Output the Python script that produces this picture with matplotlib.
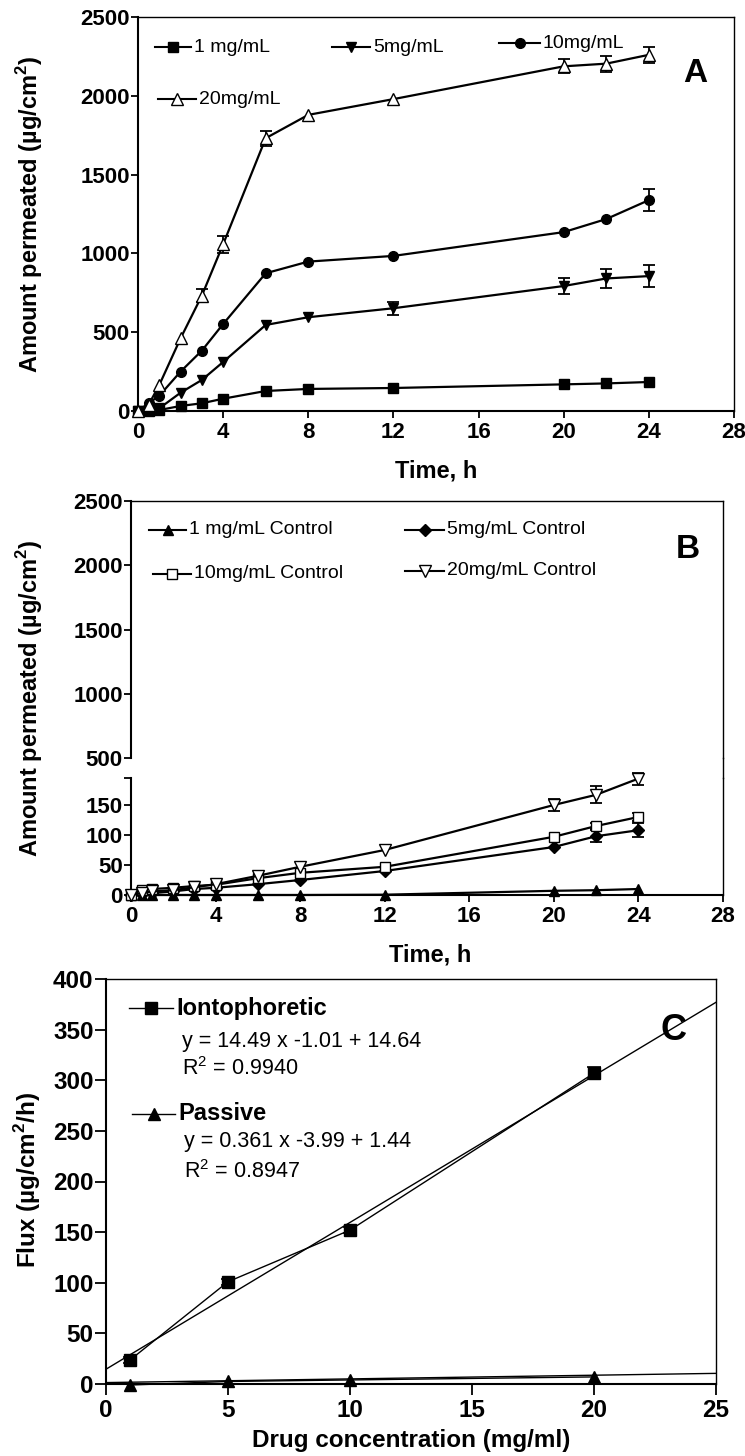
import matplotlib
matplotlib.use("Agg")
import matplotlib.pyplot as plt
from matplotlib.lines import Line2D

W, H = 745, 1456
plt.rcParams['font.family'] = ['Liberation Sans', 'DejaVu Sans']
plt.rcParams['mathtext.fontset'] = 'custom'
plt.rcParams['mathtext.rm'] = 'Liberation Sans'
plt.rcParams['mathtext.bf'] = 'Liberation Sans:bold'

# ---- panel A: iontophoretic permeation ----
time_h = [0, 0.5, 1, 2, 3, 4, 6, 8, 12, 20, 22, 24]
a_1mg = [0, 3, 6, 32, 49, 78, 127, 140, 146, 169, 175, 184]
a_5mg = [0, 5, 17, 116, 197, 311, 546, 595, 652, 793, 841, 856]
a_10mg = [0, 50, 97, 250, 383, 552, 874, 948, 984, 1135, 1218, 1338]
a_20mg = [0, 40, 165, 461, 732, 1058, 1731, 1879, 1979, 2187, 2204, 2260]
a_5mg_err = [0, 0, 0, 0, 0, 0, 0, 0, 40, 53, 60, 69]
a_10mg_err = [0, 0, 0, 0, 0, 0, 0, 0, 0, 0, 0, 70]
a_20mg_err = [0, 0, 0, 0, 42, 55, 48, 0, 0, 44, 50, 51]

# ---- panel B: passive controls ----
b_1mg = [0, 0, 0, 0, 0, 0, 0, 0, 0.5, 7, 8, 10]
b_5mg = [0, 2, 3, 6, 10, 12, 18, 25, 40, 80, 98, 108]
b_10mg = [0, 8, 10, 12, 15, 17, 28, 37, 47, 97, 115, 130]
b_20mg = [0, 3, 6, 8, 13, 18, 32, 47, 75, 150, 167, 194]
b_5mg_err = [0, 0, 0, 0, 0, 0, 0, 0, 0, 0, 10, 12]
b_10mg_err = [0, 0, 0, 0, 0, 0, 0, 0, 0, 0, 5, 6]
b_20mg_err = [0, 0, 0, 0, 0, 0, 0, 0, 0, 10, 14, 10]

# ---- panel C: flux vs concentration ----
conc = [1, 5, 10, 20]
flux_ionto = [24, 101, 152, 307]
flux_ionto_err = [3, 3, 3, 6]
flux_passive = [-1, 2.5, 4, 7]
fit_x = [0, 25]
fit_ionto = [14.6, 377]
fit_passive = [1.4, 10.5]


def fx(x):
    return x / W


def fy(y):
    return 1 - y / H


def axes_px(fig, l, t, r, b):
    return fig.add_axes([fx(l), fy(b), (r - l) / W, (b - t) / H])


def style(ax, tick_len=5, fs=16):
    for s in ax.spines.values():
        s.set_linewidth(1.0)
    ax.spines['left'].set_linewidth(1.5)
    ax.spines['bottom'].set_linewidth(1.5)
    ax.tick_params(direction='out', length=tick_len, width=1.3, labelsize=fs,
                   pad=1, top=False, right=False)
    ax.tick_params(axis='x', pad=3)
    for lab in ax.get_xticklabels() + ax.get_yticklabels():
        lab.set_fontweight('bold')


def errbars(ax, x, y, err, lw=1.3):
    sel = [i for i, e in enumerate(err) if e > 0]
    ax.errorbar([x[i] for i in sel], [y[i] for i in sel], yerr=[err[i] for i in sel],
                fmt='none', ecolor='k', elinewidth=lw, capsize=4, capthick=lw,
                clip_on=False, zorder=2)


def legend_item(fig, x0, x1, y, marker, mfc, ms, label, fs=14, weight='normal', lw=1.5):
    fig.add_artist(Line2D([fx(x0), fx(x1)], [fy(y), fy(y)], color='k', lw=lw,
                          transform=fig.transFigure))
    fig.add_artist(Line2D([fx((x0 + x1) / 2)], [fy(y)], marker=marker, ms=ms,
                          mfc=mfc, mec='k', mew=1, color='k',
                          transform=fig.transFigure))
    fig.text(fx(x1 + 3), fy(y), label, fontsize=fs, fontweight=weight,
             va='center', ha='left')


fig = plt.figure(figsize=(W / 100, H / 100), dpi=100)
ylab = r'Amount permeated (µg/cm$^{\mathbf{2}}$)'

# ================= Panel A =================
axA = axes_px(fig, 138, 17, 734, 411)
series_a = [(a_1mg, None, 's', 'k', 6.5), (a_5mg, a_5mg_err, 'v', 'k', 7.5),
            (a_10mg, a_10mg_err, 'o', 'k', 7), (a_20mg, a_20mg_err, '^', 'w', 8)]
for vals, err, mk, fc, ms in series_a:
    if err is not None:
        errbars(axA, time_h, vals, err)
    axA.plot(time_h, vals, color='k', lw=1.6, marker=mk, ms=ms, mfc=fc, mec='k',
             mew=1, clip_on=False, zorder=3)
axA.set_xlim(0, 28)
axA.set_ylim(0, 2500)
axA.set_xticks(range(0, 29, 4))
axA.set_yticks(range(0, 2501, 500))
style(axA)
fig.text(fx(436), fy(471), 'Time, h', fontsize=17, fontweight='bold', ha='center', va='center')
fig.text(fx(30), fy(214), ylab, fontsize=17, fontweight='bold', rotation=90,
         ha='center', va='center')
fig.text(fx(695), fy(73), 'A', fontsize=24, fontweight='bold', ha='center', va='center')
legend_item(fig, 155, 191, 47, 's', 'k', 6.5, '1 mg/mL')
legend_item(fig, 332, 370, 47, 'v', 'k', 7.5, '5mg/mL')
legend_item(fig, 499, 540, 43, 'o', 'k', 7, '10mg/mL')
legend_item(fig, 158, 196, 99, '^', 'w', 8, '20mg/mL')

# ================= Panel B (broken axis) =================
axBu = axes_px(fig, 131, 501, 723, 758)
axBl = axes_px(fig, 131, 778, 723, 895)
axBu.set_xlim(0, 28)
axBu.set_ylim(500, 2500)
axBu.set_yticks(range(500, 2501, 500))
axBu.set_xticks([])
axBu.spines['bottom'].set_visible(False)
style(axBu)
axBl.spines['top'].set_visible(False)
series_b = [(b_1mg, None, '^', 'k', 7.5), (b_5mg, b_5mg_err, 'D', 'k', 6),
            (b_10mg, b_10mg_err, 's', 'w', 7), (b_20mg, b_20mg_err, 'v', 'w', 8)]
for vals, err, mk, fc, ms in series_b:
    if err is not None:
        errbars(axBl, time_h, vals, err)
    axBl.plot(time_h, vals, color='k', lw=1.6, marker=mk, ms=ms, mfc=fc, mec='k',
              mew=1, clip_on=False, zorder=3)
axBl.set_xlim(0, 28)
axBl.set_ylim(0, 195)
axBl.set_xticks(range(0, 29, 4))
axBl.set_yticks([0, 50, 100, 150, 195])
axBl.set_yticklabels(['0', '50', '100', '150', ''])
style(axBl)
# right spine continues through the break
fig.add_artist(Line2D([fx(723), fx(723)], [fy(758), fy(778)], color='k', lw=1.0,
                      transform=fig.transFigure))
fig.text(fx(430), fy(955), 'Time, h', fontsize=17, fontweight='bold', ha='center', va='center')
fig.text(fx(30), fy(698), ylab, fontsize=17, fontweight='bold', rotation=90,
         ha='center', va='center')
fig.text(fx(688), fy(550), 'B', fontsize=24, fontweight='bold', ha='center', va='center')
legend_item(fig, 149, 186, 530, '^', 'k', 7.5, '1 mg/mL Control')
legend_item(fig, 405, 444, 530, 'D', 'k', 6, '5mg/mL Control')
legend_item(fig, 153, 191, 574, 's', 'w', 7, '10mg/mL Control')
legend_item(fig, 405, 444, 571, 'v', 'w', 8, '20mg/mL Control')

# ================= Panel C =================
axC = axes_px(fig, 106, 979, 716, 1384)
axC.plot(fit_x, fit_ionto, color='k', lw=1.0, zorder=2)
axC.plot(fit_x, fit_passive, color='k', lw=1.0, zorder=2)
axC.errorbar(conc, flux_ionto, yerr=flux_ionto_err, fmt='none', ecolor='k',
             elinewidth=1.2, capsize=5, capthick=1.2, zorder=2)
axC.plot(conc, flux_ionto, color='k', lw=1.0, marker='s', ms=8, mfc='k', mec='k',
         clip_on=False, zorder=3)
axC.plot(conc, flux_passive, color='k', lw=1.0, marker='^', ms=8.5, mfc='k', mec='k',
         clip_on=False, zorder=3)
axC.set_xlim(0, 25)
axC.set_ylim(0, 400)
axC.set_xticks(range(0, 26, 5))
axC.set_yticks(range(0, 401, 50))
style(axC, tick_len=8, fs=17.5)
fig.text(fx(411), fy(1440), 'Drug concentration (mg/ml)', fontsize=17.5, fontweight='bold',
         ha='center', va='center')
fig.text(fx(28), fy(1180), r'Flux (µg/cm$^{\mathbf{2}}$/h)', fontsize=17.5, fontweight='bold',
         rotation=90, ha='center', va='center')
fig.text(fx(673), fy(1030), 'C', fontsize=26, fontweight='bold', ha='center', va='center')
legend_item(fig, 129, 173, 1008, 's', 'k', 8, 'Iontophoretic', fs=17, weight='bold', lw=1.0)
fig.text(fx(182), fy(1042), 'y = 14.49 x -1.01 + 14.64', fontsize=15.5, va='center')
fig.text(fx(182), fy(1069), r'R$^{\mathrm{2}}$ = 0.9940', fontsize=15.5, va='center')
legend_item(fig, 132, 175, 1114, '^', 'k', 8.5, 'Passive', fs=17, weight='bold', lw=1.0)
fig.text(fx(184), fy(1142), 'y = 0.361 x -3.99 + 1.44', fontsize=15.5, va='center')
fig.text(fx(184), fy(1172), r'R$^{\mathrm{2}}$ = 0.8947', fontsize=15.5, va='center')

fig.savefig('out.png', dpi=100)
